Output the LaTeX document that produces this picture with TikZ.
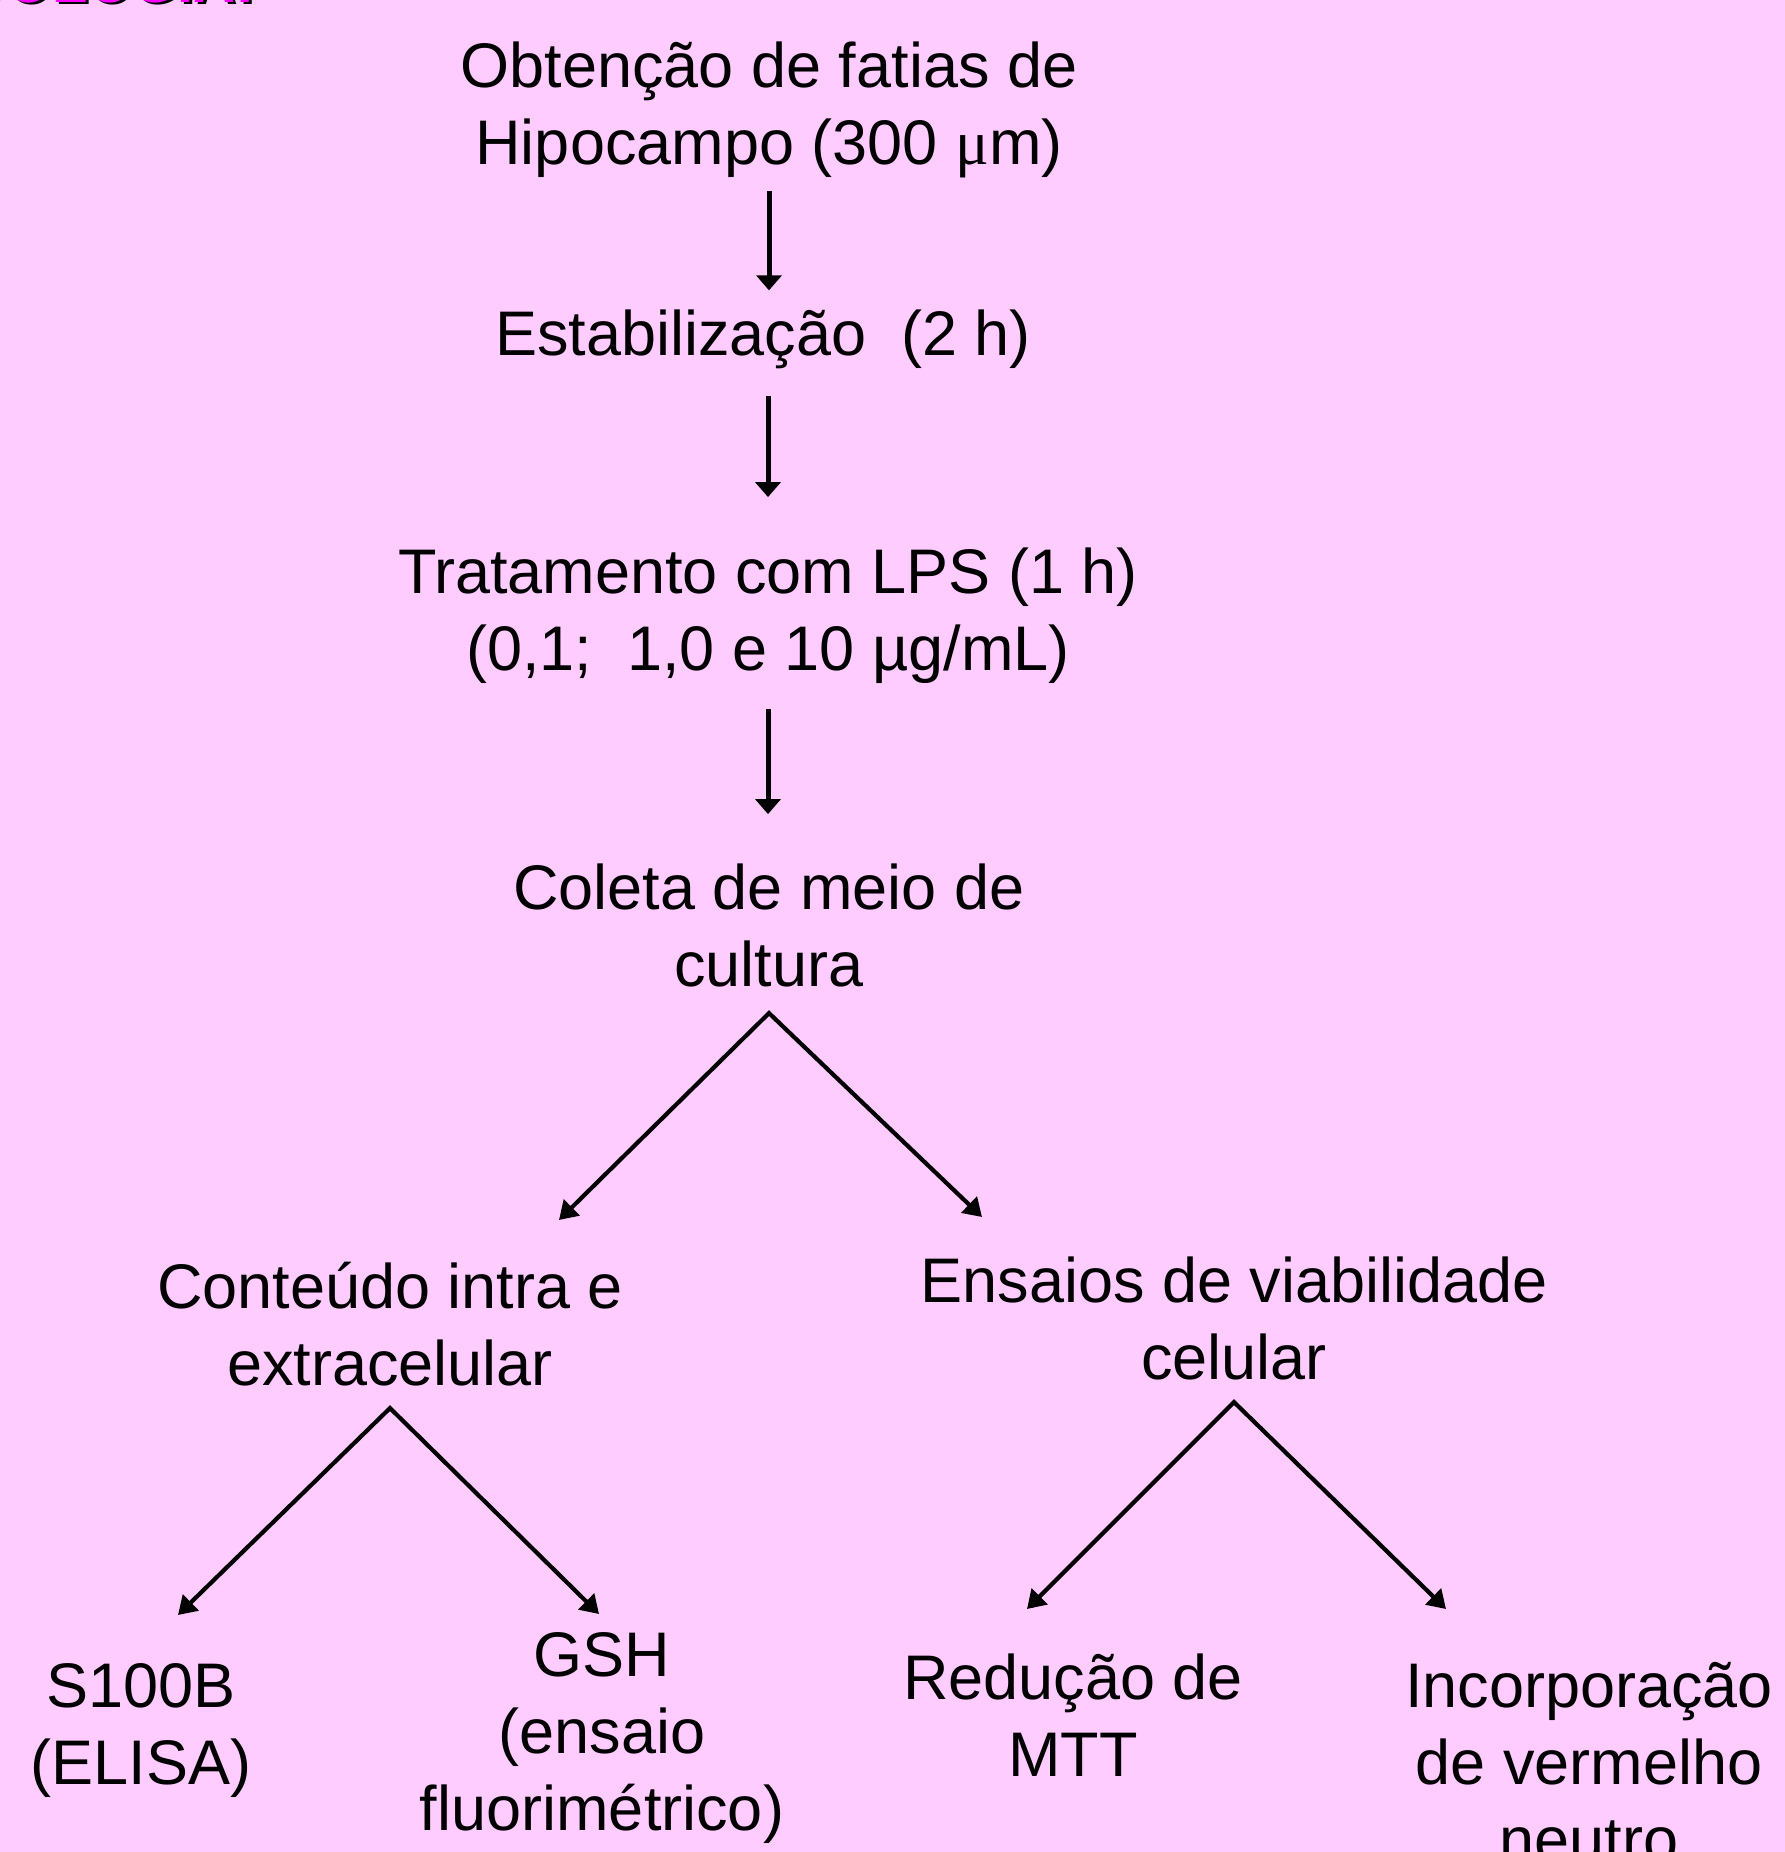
\documentclass[tikz,border=0pt]{standalone}
\usepackage{fontspec}
\setmainfont{Liberation Sans}
\newfontfamily\serifmu{Liberation Serif}
\usetikzlibrary{arrows.meta}
\definecolor{bgpink}{HTML}{FFCCFF}
\definecolor{titlemag}{HTML}{FF00FF}
\newcommand{\mlines}[1]{\begin{tabular}[t]{@{}c@{}}#1\end{tabular}}
\tikzset{
  txt/.style={inner sep=0pt, outer sep=0pt, anchor=base, font=\fontsize{63}{77}\selectfont},
  titletxt/.style={inner sep=0pt, outer sep=0pt, anchor=base east, font=\fontsize{58}{60}\selectfont\bfseries},
  varr/.style={line width=5pt, -{Triangle[width=25pt,length=15pt]}},
  darr/.style={line width=4.2pt, {Triangle[width=22pt,length=18pt]}-{Triangle[width=22pt,length=18pt]}},
}
\begin{document}
\begin{tikzpicture}[x=1pt,y=-1pt]
\useasboundingbox (0,0) rectangle (1785,1852);
\fill[bgpink] (0,0) rectangle (1785,1852);
\clip (0,0) rectangle (1785,1852);
% cut-off title
\node[titletxt, text=black] (tshadow) at (258,5) {METODOLOGIA:};
\node[titletxt, text=titlemag] (title) at (255,2.5) {METODOLOGIA:};
% main chain
\node[txt] (n1) at (769,88) {\mlines{Obtenção de fatias de\\Hipocampo (300 {\serifmu μ}m)}};
\node[txt] (n2) at (763,355) {Estabilização\ \ (2 h)};
\node[txt] (n3) at (768,593) {\mlines{Tratamento com LPS (1 h)\\(0,1;\ \ 1,0 e 10 µg/mL)}};
\node[txt] (n4) at (769,909) {\mlines{Coleta de meio de\\cultura}};
% second level
\node[txt] (n5l) at (390,1308) {\mlines{Conteúdo intra e\\extracelular}};
\node[txt] (n5r) at (1234,1302) {\mlines{Ensaios de viabilidade\\celular}};
% leaves
\node[txt] (s100) at (141,1707) {\mlines{S100B\\(ELISA)}};
\node[txt] (gsh) at (602,1676) {\mlines{GSH\\(ensaio\\fluorimétrico)}};
\node[txt] (mtt) at (1073,1699) {\mlines{Redução de\\MTT}};
\node[txt] (vn) at (1589,1707) {\mlines{Incorporação\\de vermelho\\neutro}};
% tips of branching arrows
\coordinate (t5l) at (559,1220);
\coordinate (t5r) at (982,1217);
\coordinate (ts100) at (178,1615);
\coordinate (tgsh) at (599,1614);
\coordinate (tmtt) at (1027,1609);
\coordinate (tvn) at (1446,1609);
% vertical arrows
\draw[varr] ([yshift=-3pt]n1.south) -- ([yshift=19pt]n1.south |- n2.north);
\draw[varr] ([yshift=-28pt]n3.north |- n2.south) -- ([yshift=42pt]n3.north);
\draw[varr] ([yshift=-16pt]n3.south) -- ([yshift=41pt]n3.south |- n4.north);
% branches
\draw[darr] (t5l) -- ([yshift=-4pt]n4.south) -- (t5r);
\draw[darr] (ts100) -- (n5l.south) -- (tgsh);
\draw[darr] (tmtt) -- (n5r.south) -- (tvn);
\end{tikzpicture}
\end{document}
